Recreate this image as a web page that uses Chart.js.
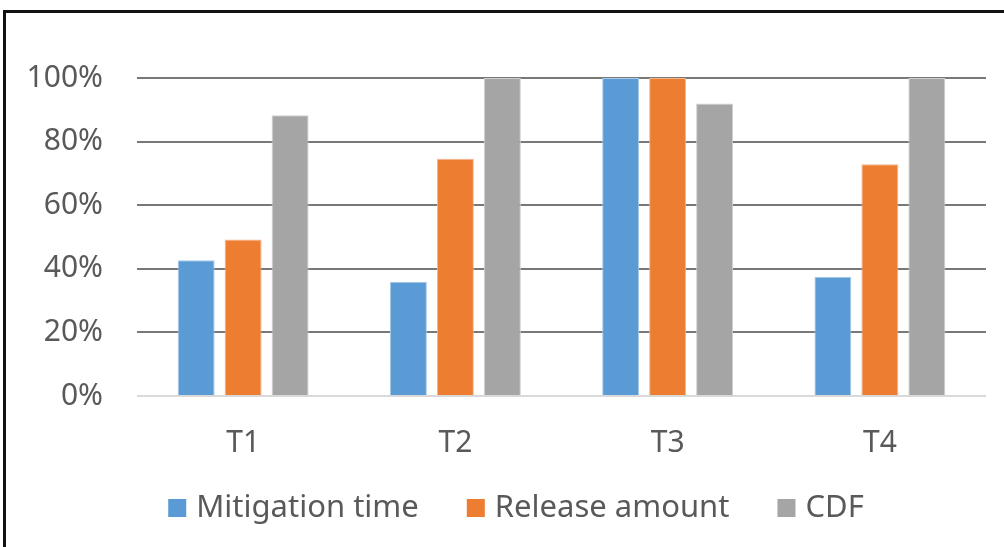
<!DOCTYPE html>
<html>
<head>
<meta charset="utf-8">
<script src="https://cdn.jsdelivr.net/npm/chart.js@4"></script>
<style>
  html, body { margin: 0; padding: 0; background: #fff; overflow: hidden; }
  #wrap { position: absolute; left: 0; top: 0; width: 1004px; height: 547px; }
  #frame {
    position: absolute; left: 3px; top: 10px; width: 1100px; height: 600px;
    border-top: 3px solid #111; border-left: 3px solid #111; pointer-events: none;
  }
</style>
</head>
<body>
<div id="wrap"><canvas id="barChart" width="1004" height="547"></canvas></div>
<div id="frame"></div>
<script>
const categories = ['T1', 'T2', 'T3', 'T4'];
const mitigationTime = [42.7, 35.9, 100, 37.5];
const releaseAmount = [49.2, 74.6, 100, 72.9];
const cdf = [88.3, 100, 92.0, 100];
const yTickLabels = ['0%', '20%', '40%', '60%', '80%', '100%'];

const textColor = '#595959';
const fontFamily = '"Noto Sans", "DejaVu Sans", sans-serif';

// legend row under the axis: square swatch, then the series name
const bottomLegend = {
  id: 'bottomLegend',
  afterDraw(chart, args, opts) {
    const ctx = chart.ctx;
    ctx.save();
    ctx.font = opts.size + 'px ' + fontFamily;
    const items = chart.data.datasets.map((ds) => ({
      text: ds.label,
      color: ds.backgroundColor,
      w: opts.box + opts.gap + ctx.measureText(ds.label).width
    }));
    const total = items.reduce((s, it) => s + it.w, 0) + opts.spacing * (items.length - 1);
    let x = opts.centerX - total / 2;
    ctx.textBaseline = 'middle';
    items.forEach((it) => {
      ctx.fillStyle = it.color;
      ctx.fillRect(x, opts.centerY - opts.box / 2, opts.box, opts.box);
      ctx.fillStyle = textColor;
      ctx.fillText(it.text, x + opts.box + opts.gap, opts.centerY);
      x += it.w + opts.spacing;
    });
    ctx.restore();
  }
};

const ctx = document.getElementById('barChart');

new Chart(ctx, {
  type: 'bar',
  data: {
    labels: categories,
    datasets: [
      {
        label: 'Mitigation time',
        data: mitigationTime,
        backgroundColor: '#5b9bd5',
        borderColor: '#a9cbea',
        borderWidth: 1
      },
      {
        label: 'Release amount',
        data: releaseAmount,
        backgroundColor: '#ed7d31',
        borderColor: '#f5b48a',
        borderWidth: 1
      },
      {
        label: 'CDF',
        data: cdf,
        backgroundColor: '#a5a5a5',
        borderColor: '#cfcfcf',
        borderWidth: 1
      }
    ]
  },
  plugins: [bottomLegend],
  options: {
    responsive: false,
    animation: false,
    devicePixelRatio: 1,
    categoryPercentage: 0.664,
    barPercentage: 0.787,
    layout: {
      padding: { left: 20, right: 18, top: 78, bottom: 81 }
    },
    scales: {
      x: {
        afterFit: (scale) => { scale.height = 70; },
        grid: { display: false },
        border: { display: false },
        ticks: {
          color: textColor,
          padding: 21,
          font: { family: fontFamily, size: 30 }
        }
      },
      y: {
        min: 0,
        max: 100,
        afterFit: (scale) => { scale.width = 117; },
        border: { display: false },
        grid: {
          drawTicks: false,
          lineWidth: 2,
          color: (c) => (c.tick && c.tick.value === 0 ? '#d9d9d9' : '#787878')
        },
        ticks: {
          stepSize: 20,
          padding: 34,
          color: textColor,
          font: { family: fontFamily, size: 30 },
          callback: (value) => yTickLabels[Math.round(value / 20)]
        }
      }
    },
    plugins: {
      legend: { display: false },
      tooltip: { enabled: false },
      bottomLegend: { centerX: 516, centerY: 508, box: 18, gap: 10, spacing: 48, size: 31 }
    }
  }
});
</script>
</body>
</html>
